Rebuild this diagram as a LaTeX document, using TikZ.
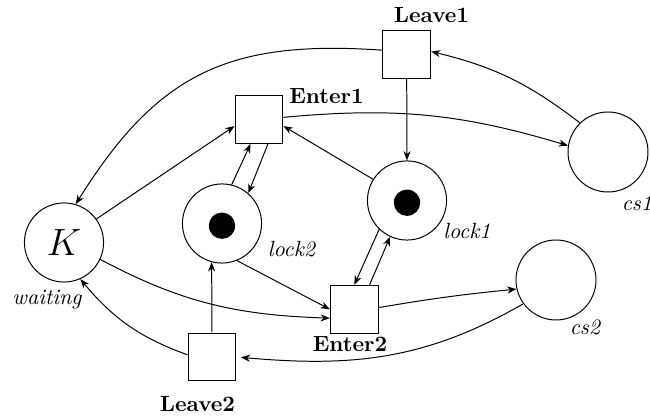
\documentclass[tikz,border=0pt]{standalone}
\usetikzlibrary{arrows.meta}
\begin{document}
\begin{tikzpicture}[x=0.455pt,y=0.455pt,
  line width=0.45pt,
  >={Stealth[length=4.2pt,width=3.2pt,inset=1.3pt]},
  place/.style={circle,draw,minimum size=36pt,inner sep=0pt},
  trans/.style={rectangle,draw,minimum size=21.8pt,inner sep=0pt},
  token/.style={circle,fill=black,minimum size=12pt,inner sep=0pt},
  tlabel/.style={font=\bfseries,inner sep=0pt},
  plabel/.style={font=\itshape,inner sep=0pt},
  arc/.style={->}]
\useasboundingbox (0,0) rectangle (650,-419);

% places
\node[place] (waiting) at (64,-242.5) {\LARGE$K$};
\node[place] (lock2) at (222,-223.5) {};
\node[place] (lock1) at (407,-200.5) {};
\node[place,minimum size=36.4pt] (cs1) at (608,-152) {};
\node[place,minimum size=36.4pt] (cs2) at (556,-280) {};

% tokens on the lock places
\node[token] (tok2) at ([yshift=-1pt]lock2.center) {};
\node[token] (tok1) at ([yshift=-1pt]lock1.center) {};

% transitions
\node[trans] (Leave1) at (406.7,-54.5) {};
\node[trans] (Enter1) at (259,-119.5) {};
\node[trans] (Enter2) at (354.3,-309.3) {};
\node[trans] (Leave2) at (212,-357) {};

% labels
\node[tlabel] (lLeave1) at (431.5,-15.5) {Leave1};
\node[tlabel] (lEnter1) at (326.5,-96.5) {Enter1};
\node[tlabel] (lEnter2) at (350,-344.5) {Enter2};
\node[tlabel] (lLeave2) at (197.5,-404.5) {Leave2};
\node[plabel] (lwaiting) at (47,-300) {waiting};
\node[plabel] (llock2) at (291.5,-249) {lock2};
\node[plabel] (llock1) at (467,-231) {lock1};
\node[plabel] (lcs1) at (637,-203) {cs1};
\node[plabel] (lcs2) at (585,-327) {cs2};

% arcs
\draw[arc] (Leave1.170) to[out=176,in=58,looseness=1.15] (waiting.73);
\draw[arc] (cs1.134) to[bend right=12] (Leave1.7);
\draw[arc] (Leave1.south) -- (lock1.north);
\draw[arc] (Enter1.5) to[bend left=11] (cs1.171);
\draw[arc] (lock1.148) -- (Enter1.-15);
\draw[arc] (waiting.36) -- (Enter1.195);
\draw[arc] (lock2.76) -- (Enter1.251);
\draw[arc] (Enter1.-70) -- (lock2.49);
\draw[arc] (lock2.-68) -- (Enter2.west);
\draw[arc] (waiting.-25) to[out=-28,in=178] (Enter2.200);
\draw[arc] (lock1.226) -- (Enter2.north);
\draw[arc] (Enter2.58) -- (lock1.245);
\draw[arc] (Enter2.4) to[bend left=2] (cs2.193);
\draw[arc,shorten >=2pt] (cs2.216) to[out=210,in=-5] (Leave2.east);
\draw[arc] (Leave2.north) -- (lock2.255);
\draw[arc] (Leave2.175) to[out=160,in=-50] (waiting.-66);
\end{tikzpicture}
\end{document}
